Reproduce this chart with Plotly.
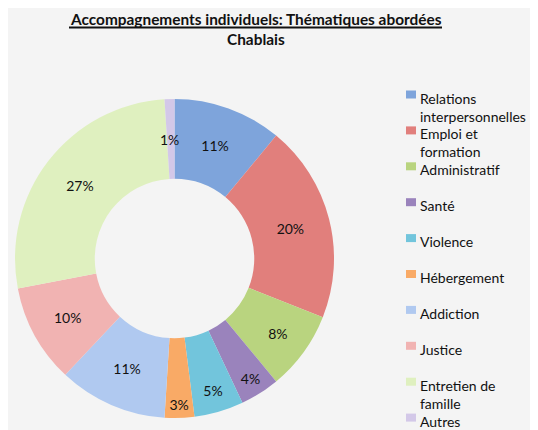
import math
import plotly.graph_objects as go

categories = ["Relations interpersonnelles", "Emploi et formation", "Administratif", "Santé",
              "Violence", "Hébergement", "Addiction", "Justice", "Entretien de famille", "Autres"]
legend_labels = ["Relations<br>interpersonnelles", "Emploi et<br>formation", "Administratif", "Santé",
                 "Violence", "Hébergement", "Addiction", "Justice", "Entretien de<br>famille", "Autres"]
values = [11, 20, 8, 4, 5, 3, 11, 10, 27, 1]
colors = ["#7ea4db", "#e17f7c", "#b9d47f", "#9a83bc", "#72c5dc", "#f9aa66",
          "#b0c9f0", "#f1b3b2", "#dff0bf", "#d3c8e8"]

# page body has an 8px margin: work in reference pixels and convert
OFF = 8
W, H = 538 - OFF, 430 - OFF
FONT = "Lato"


def X(px):
    return (px - OFF) / W


def Y(py):
    return 1 - (py - OFF) / H


# pie geometry in reference pixels
LEFT, RIGHT, TOP, BOTTOM = 15, 334, 99, 418
small = [v < 2 for v in values]
texts = [" " if s else f"{v}%" for v, s in zip(values, small)]

fig = go.Figure(go.Pie(
    labels=categories, values=values, hole=0.5, sort=False, direction="clockwise", rotation=0,
    marker=dict(colors=colors, line=dict(width=0)),
    text=texts, textinfo="text", textposition="inside",
    insidetextorientation="horizontal",
    textfont=dict(family=FONT, size=14, color="#111111"),
    domain=dict(x=[X(LEFT), X(RIGHT)], y=[Y(BOTTOM), Y(TOP)]),
    showlegend=False, hoverinfo="label+value",
))

shapes = []
annotations = []
# labels for tiny slices, placed at mid-ring from the data
cx, cy, R = (LEFT + RIGHT) / 2, (TOP + BOTTOM) / 2, (RIGHT - LEFT) / 2
total = sum(values)
cum = 0
for v, s in zip(values, small):
    if s:
        ang = math.radians(90 - 360 * (cum + v / 2) / total)
        rr = 0.75 * R
        annotations.append(dict(text=f"{v}%", x=X(cx + rr * math.cos(ang) - 1), y=Y(cy - rr * math.sin(ang) + 1),
                                xref="paper", yref="paper", showarrow=False,
                                xanchor="center", yanchor="middle",
                                font=dict(family=FONT, size=14, color="#111111")))
    cum += v

# title
annotations.append(dict(text="<b>Accompagnements individuels: Thématiques abordées</b>",
                        x=X(255.5), y=Y(19), xref="paper", yref="paper", showarrow=False,
                        font=dict(family=FONT, size=15.4, color="#111111"), xanchor="center", yanchor="middle"))
annotations.append(dict(text="<b>Chablais</b>",
                        x=X(255.5), y=Y(39), xref="paper", yref="paper", showarrow=False,
                        font=dict(family=FONT, size=15.4, color="#111111"), xanchor="center", yanchor="middle"))
shapes.append(dict(type="line", xref="paper", yref="paper", x0=X(69), x1=X(442),
                   y0=Y(27.5), y1=Y(27.5), line=dict(color="#111111", width=2)))

# manual legend
for i, (lab, col) in enumerate(zip(legend_labels, colors)):
    yc = 97.5 + 35.9 * i
    shapes.append(dict(type="rect", xref="paper", yref="paper", x0=X(406), x1=X(416),
                       y0=Y(yc + 1), y1=Y(yc - 7), fillcolor=col, line=dict(width=0)))
    annotations.append(dict(text=lab, x=X(418), y=Y(yc - 10), xref="paper", yref="paper",
                            showarrow=False, xanchor="left", yanchor="top", align="left",
                            font=dict(family=FONT, size=14, color="#111111")))

fig.update_layout(
    width=W, height=H, margin=dict(l=0, r=0, t=0, b=0),
    paper_bgcolor="#f4f4f4", plot_bgcolor="#f4f4f4",
    uniformtext=dict(minsize=14, mode="show"),
    shapes=shapes, annotations=annotations,
)
fig.write_html("out.html")
